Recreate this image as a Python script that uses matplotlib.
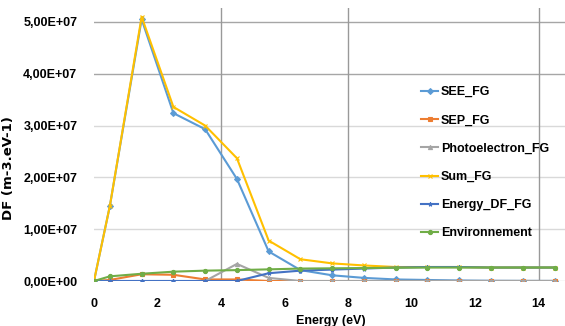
import matplotlib.pyplot as plt
from matplotlib.ticker import FuncFormatter

plt.rcParams['font.family'] = ['Liberation Sans Narrow', 'Liberation Sans', 'DejaVu Sans']

# Energy (eV) sample points
energy = [0, 0.5, 1.5, 2.5, 3.5, 4.5, 5.5, 6.5, 7.5, 8.5, 9.5, 10.5, 11.5, 12.5, 13.5, 14.5]

# distribution functions (m-3.eV-1)
see_fg = [0, 1.45e7, 5.05e7, 3.24e7, 2.93e7, 1.97e7, 0.57e7, 0.21e7, 0.11e7, 0.06e7,
          0.03e7, 0.02e7, 0.01e7, 0.005e7, 0.003e7, 0.002e7]
sep_fg = [0, 0.02e7, 0.13e7, 0.12e7, 0.03e7, 0.03e7, 0, 0, 0, 0, 0, 0, 0, 0, 0, 0]
photo_fg = [0, 0, 0, 0, 0, 0.33e7, 0.06e7, 0, 0, 0, 0, 0, 0, 0, 0, 0]
sum_fg = [0, 1.45e7, 5.1e7, 3.36e7, 3.0e7, 2.37e7, 0.78e7, 0.42e7, 0.34e7, 0.3e7,
          0.27e7, 0.27e7, 0.27e7, 0.26e7, 0.26e7, 0.26e7]
energy_df_fg = [0, 0, 0, 0, 0, 0, 0.15e7, 0.2e7, 0.22e7, 0.24e7,
                0.26e7, 0.27e7, 0.27e7, 0.26e7, 0.26e7, 0.26e7]
environnement = [0, 0.09e7, 0.14e7, 0.18e7, 0.2e7, 0.21e7, 0.225e7, 0.24e7, 0.245e7, 0.25e7,
                 0.255e7, 0.26e7, 0.26e7, 0.26e7, 0.26e7, 0.26e7]

series = [
    ('SEE_FG', see_fg, '#5B9BD5', 'D'),
    ('SEP_FG', sep_fg, '#ED7D31', 's'),
    ('Photoelectron_FG', photo_fg, '#A5A5A5', '^'),
    ('Sum_FG', sum_fg, '#FFC000', 'x'),
    ('Energy_DF_FG', energy_df_fg, '#4472C4', '*'),
    ('Environnement', environnement, '#70AD47', 'o'),
]

fig = plt.figure(figsize=(5.65, 3.26), dpi=100)
ax = fig.add_axes([94 / 565, 45 / 326, 471 / 565, 273 / 326])

# gridlines
for v in range(0, 6):
    ax.axhline(v * 1e7, color='#a6a6a6' if v >= 4 else '#d9d9d9', lw=1, zorder=0)
for v in [4, 8, 14]:
    ax.axvline(v, color='#999999', lw=1, zorder=0)

for name, vals, col, mk in series:
    ax.plot(energy, vals, color=col, lw=1.5, marker=mk, markersize=3,
            markeredgewidth=0.8, label=name)

ax.set_xlim(0, 14.83)
ax.set_ylim(0, 5.27e7)
ax.set_xticks(range(0, 15, 2))
ax.set_yticks([i * 1e7 for i in range(6)])
ax.yaxis.set_major_formatter(FuncFormatter(lambda v, p: f'{v:.2E}'.replace('.', ',')))
for s in ax.spines.values():
    s.set_visible(False)
ax.tick_params(length=0, labelsize=9, pad=12)
for t in ax.get_xticklabels() + ax.get_yticklabels():
    t.set_fontweight('bold')

ax.set_xlabel('Energy (eV)', fontsize=9, fontweight='bold', labelpad=0)
ax.xaxis.set_label_coords(0.503, -0.125)
ax.set_ylabel('DF (m-3.eV-1)', fontsize=9.5, fontweight='bold', family=['DejaVu Sans'])
ax.yaxis.set_label_coords(-0.168, 0.414)

leg = ax.legend(loc='upper left', bbox_to_anchor=(0.67, 0.755), frameon=False,
                fontsize=9, handlelength=1.4, handletextpad=0.2, labelspacing=1.3)
for t in leg.get_texts():
    t.set_fontweight('bold')

fig.savefig('out.png', dpi=100)
